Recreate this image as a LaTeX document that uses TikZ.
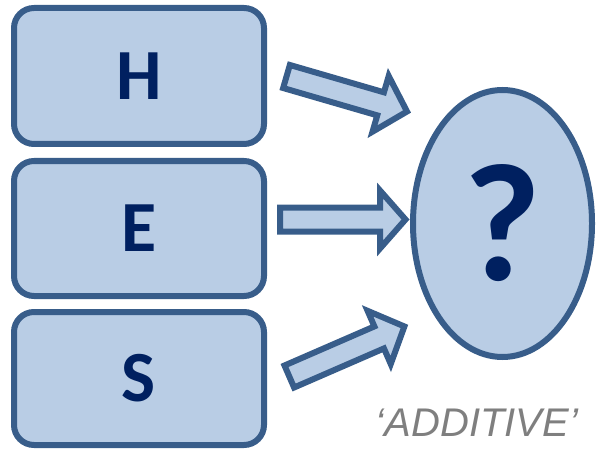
\documentclass[tikz,border=0pt]{standalone}
\usepackage{fontspec}
\setmainfont{Carlito}
\newfontfamily\arialfont{Liberation Sans}
\usetikzlibrary{shapes.geometric}
\definecolor{fillblue}{HTML}{B9CDE5}
\definecolor{edgeblue}{HTML}{385D8A}
\definecolor{navytext}{HTML}{002060}
\definecolor{graytext}{HTML}{7F7F7F}
\begin{document}
\begin{tikzpicture}[x=1pt,y=1pt,
  box/.style={draw=edgeblue, fill=fillblue, line width=6pt, rounded corners=20pt,
    minimum width=250pt, minimum height=135pt, inner sep=0pt,
    font=\fontsize{72}{72}\selectfont\bfseries, text=navytext},
  oval/.style={ellipse, draw=edgeblue, fill=fillblue, line width=6pt,
    minimum width=179pt, minimum height=267pt, inner sep=0pt,
    font=\fontsize{168}{168}\selectfont\bfseries, text=navytext},
  blockarrow/.style={draw=edgeblue, fill=fillblue, line width=6pt, line join=miter}]
\useasboundingbox (0,0) rectangle (596,-449);
\node[box, minimum height=136pt] (H) at (139,-76) {H};
\node[box] (E) at (139,-228.5) {E};
\node[box, minimum height=133pt] (S) at (139,-378.5) {S};
\node[oval] (Q) at (502.5,-223.5) {?};
\coordinate (a1) at (286.5,-76.5);
\coordinate (a2) at (280,-219.5);
\coordinate (a3) at (289.3,-376.5);
\draw[blockarrow, shift={(a1)}, rotate=-16.2]
  (0,12) -- (98,12) -- (98,29) -- (125.5,0) -- (98,-29) -- (98,-12) -- (0,-12) -- cycle;
\draw[blockarrow, shift={(a2)}]
  (0,12) -- (100,12) -- (100,29) -- (125.5,0) -- (100,-29) -- (100,-12) -- (0,-12) -- cycle;
\draw[blockarrow, shift={(a3)}, rotate=23.5]
  (0,12) -- (98,12) -- (98,29) -- (125.5,0) -- (98,-29) -- (98,-12) -- (0,-12) -- cycle;
\node[font=\arialfont\itshape\fontsize{40}{40}\selectfont, text=graytext, anchor=base, inner sep=0pt] (add) at (477,-436) {‘ADDITIVE’};
\end{tikzpicture}
\end{document}
